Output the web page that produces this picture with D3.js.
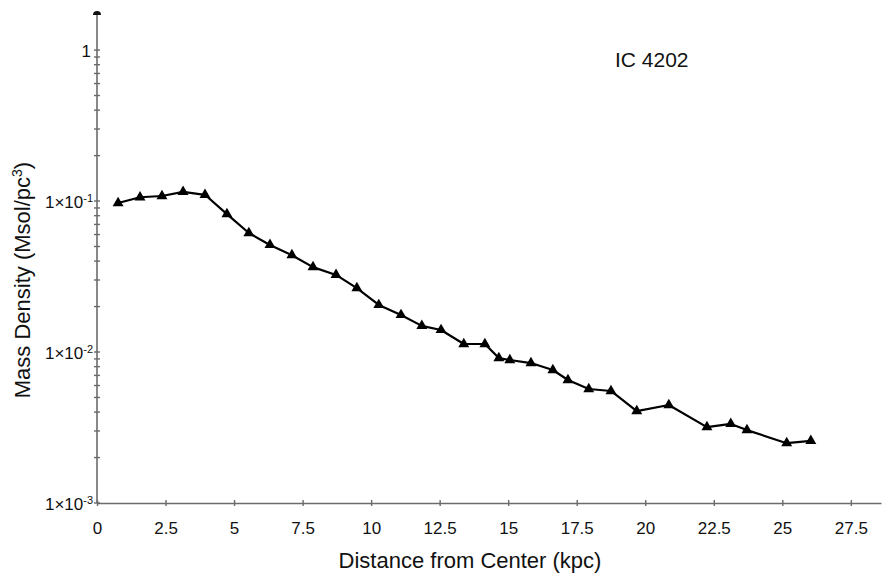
<!DOCTYPE html>
<html>
<head>
<meta charset="utf-8">
<script src="https://cdn.jsdelivr.net/npm/d3@7"></script>
<style>
  html, body { margin: 0; padding: 0; background: #fff; }
  text { font-family: "Liberation Sans", Arial, sans-serif; fill: #111; }
</style>
</head>
<body>
<svg id="chart" width="885" height="580"></svg>
<script>
// Radial mass density profile of IC 4202
const distanceKpc = [0.77, 1.57, 2.37, 3.14, 3.94, 4.74, 5.54, 6.31, 7.11, 7.88, 8.72, 9.48, 10.28, 11.09, 11.85, 12.55, 13.38, 14.15, 14.66, 15.06, 15.83, 16.63, 17.18, 17.94, 18.75, 19.69, 20.86, 22.25, 23.12, 23.71, 25.16, 26.04];
const density = [0.097, 0.106, 0.108, 0.115, 0.110, 0.082, 0.0614, 0.0512, 0.0438, 0.0365, 0.0324, 0.0265, 0.0205, 0.0176, 0.0149, 0.0140, 0.0113, 0.0113, 0.00912, 0.00885, 0.00845, 0.0076, 0.00653, 0.00569, 0.00552, 0.00406, 0.00446, 0.00318, 0.00334, 0.00304, 0.00249, 0.00258];
const xTicks = [0, 2.5, 5, 7.5, 10, 12.5, 15, 17.5, 20, 22.5, 25, 27.5];
const yMajor = [1e-3, 1e-2, 1e-1, 1];
const chartTitle = "IC 4202";

const svg = d3.select("#chart");
const plotLeft = 97, plotRight = 881, plotTop = 13, plotBottom = 503;

const x = d3.scaleLinear().domain([0, 28.6]).range([plotLeft, plotRight]);
const y = d3.scaleLog().domain([1e-3, 1.76]).range([plotBottom, plotTop]);

const axisColor = "#6b6b6b";

// x axis
const xAxis = svg.append("g").attr("transform", `translate(0,${plotBottom})`)
  .call(d3.axisBottom(x).tickValues(xTicks).tickSizeInner(0).tickSizeOuter(0).tickPadding(19).tickFormat(d => d));
xAxis.select(".domain").attr("stroke", axisColor).attr("stroke-width", 1.6);
xAxis.selectAll(".tick line").remove();
xAxis.selectAll(".tick text").attr("font-size", 17).attr("fill", "#111")
  .attr("font-family", "'Liberation Sans', Arial, sans-serif");
xAxis.selectAll(".tick").append("line")
  .attr("y1", -3).attr("y2", 3).attr("stroke", axisColor).attr("stroke-width", 1.4);

// y axis (log): major and minor ticks crossing the axis line
const yAxis = svg.append("g").attr("transform", `translate(${plotLeft},0)`);
yAxis.append("line").attr("y1", plotBottom).attr("y2", plotTop)
  .attr("stroke", axisColor).attr("stroke-width", 1.6);
const yMinor = [];
yMajor.forEach(p => { for (let k = 1; k <= 9; k++) { const v = p * k; if (v <= 1.76) yMinor.push(v); } });
yAxis.selectAll("line.tk").data(yMinor).join("line").attr("class", "tk")
  .attr("x1", -3).attr("x2", 3).attr("y1", d => y(d)).attr("y2", d => y(d))
  .attr("stroke", axisColor).attr("stroke-width", 1.4);
// rounded cap at the top of the axis
yAxis.append("path")
  .attr("d", `M-4,${plotTop + 2} A4,4 0 0 1 4,${plotTop + 2} Z`)
  .attr("fill", "#111");

// y tick labels: 1 and 1×10^n
yMajor.forEach(v => {
  const exp = Math.round(Math.log10(v));
  const t = yAxis.append("text").attr("x", -4).attr("y", y(v) + 6.5)
    .attr("text-anchor", "end").attr("font-size", 17);
  if (exp === 0) { t.attr("x", -6).text("1"); }
  else {
    t.append("tspan").text("1×10");
    t.append("tspan").attr("dy", -6).attr("font-size", 11).text(String(exp));
  }
});

// axis titles
svg.append("text").attr("x", 470).attr("y", 568)
  .attr("text-anchor", "middle").attr("font-size", 22).text("Distance from Center (kpc)");
const yt = svg.append("text").attr("transform", "translate(30,280) rotate(-90)")
  .attr("text-anchor", "middle").attr("font-size", 22);
yt.append("tspan").text("Mass Density (Msol/pc");
yt.append("tspan").attr("dy", -8).attr("font-size", 14).text("3");
yt.append("tspan").attr("dy", 8).text(")");

// chart label
svg.append("text").attr("x", 615).attr("y", 67).attr("font-size", 21).text(chartTitle);

// profile line
const pts = distanceKpc.map((d, i) => [d, density[i]]);
svg.append("path").datum(pts)
  .attr("fill", "none").attr("stroke", "#000").attr("stroke-width", 2.2)
  .attr("stroke-linejoin", "round")
  .attr("d", d3.line().x(d => x(d[0])).y(d => y(d[1])));

// triangle markers
const tri = d3.symbol().type(d3.symbolTriangle).size(52);
svg.selectAll("path.mk").data(pts).join("path").attr("class", "mk")
  .attr("transform", d => `translate(${x(d[0])},${y(d[1])})`)
  .attr("d", tri).attr("fill", "#000");
</script>
</body>
</html>
